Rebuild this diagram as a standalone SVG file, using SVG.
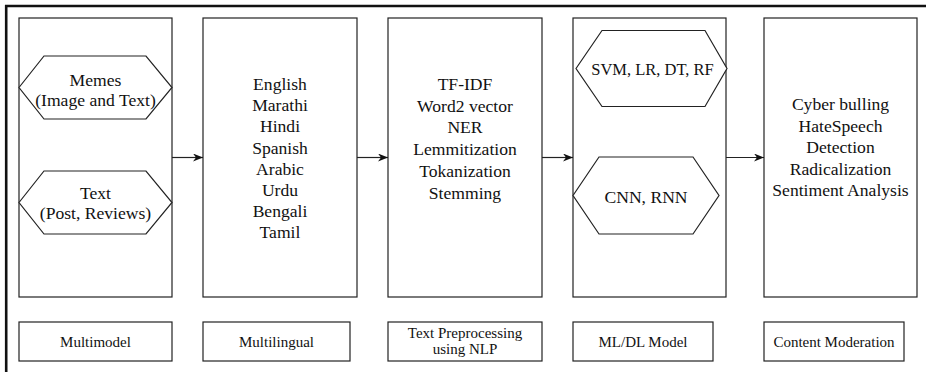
<svg xmlns="http://www.w3.org/2000/svg" width="926" height="372" viewBox="0 0 926 372">
<style>
.box{fill:#fff;stroke:#222;stroke-width:1.2}
.t{font-family:'Liberation Serif','Times New Roman',serif;fill:#111;text-anchor:middle}
.big{font-size:17.6px}
.small{font-size:15px}
.con{stroke:#222;stroke-width:1.2;fill:none}
</style>
<defs>
<marker id="ah" markerWidth="10" markerHeight="8" refX="10" refY="4" orient="auto" markerUnits="userSpaceOnUse">
<path d="M0,0 L10,4 L0,8 L3,4 Z" fill="#111"/>
</marker>
</defs>
<rect x="0" y="0" width="926" height="372" fill="#fff"/>
<path d="M926,6 H6.2 V372" fill="none" stroke="#111" stroke-width="2.6"/>

<g id="multimodel">
<rect class="box" x="19" y="18" width="153" height="279"/>
<polygon class="box" points="19,87.5 44,56 146,56 172,87.5 146,119 44,119"/>
<text class="t big" x="95.5" y="86">Memes</text>
<text class="t big" x="95.5" y="106">(Image and Text)</text>
<polygon class="box" points="19,202.5 44,171 146,171 172,202.5 146,234 44,234"/>
<text class="t big" x="95.5" y="199">Text</text>
<text class="t big" x="95.5" y="219">(Post, Reviews)</text>
</g>
<g id="label-multimodel">
<rect class="box" x="19" y="322" width="153" height="39"/>
<text class="t small" x="95.5" y="347">Multimodel</text>
</g>

<g id="multilingual">
<rect class="box" x="203" y="18" width="154" height="279"/>
<text class="t big" x="280" y="90">English</text>
<text class="t big" x="280" y="111.2">Marathi</text>
<text class="t big" x="280" y="132.4">Hindi</text>
<text class="t big" x="280" y="153.6">Spanish</text>
<text class="t big" x="280" y="174.8">Arabic</text>
<text class="t big" x="280" y="196">Urdu</text>
<text class="t big" x="280" y="217.2">Bengali</text>
<text class="t big" x="280" y="238.4">Tamil</text>
</g>
<g id="label-multilingual">
<rect class="box" x="203" y="322" width="147" height="39"/>
<text class="t small" x="276.5" y="347">Multilingual</text>
</g>

<g id="preprocessing">
<rect class="box" x="388" y="18" width="154" height="279"/>
<text class="t big" x="465" y="90">TF-IDF</text>
<text class="t big" x="465" y="111.7">Word2 vector</text>
<text class="t big" x="465" y="133.4">NER</text>
<text class="t big" x="465" y="155.1">Lemmitization</text>
<text class="t big" x="465" y="176.8">Tokanization</text>
<text class="t big" x="465" y="198.5">Stemming</text>
</g>
<g id="label-preprocessing">
<rect class="box" x="388" y="322" width="154" height="39"/>
<text class="t small" x="465" y="337.5">Text Preprocessing</text>
<text class="t small" x="465" y="353.5">using NLP</text>
</g>

<g id="model">
<rect class="box" x="573" y="18" width="153" height="279"/>
<polygon class="box" points="576,68.5 602,30.5 705,30.5 727,68.5 705,106.5 602,106.5"/>
<text class="t" style="font-size:16.5px" x="652.5" y="75">SVM, LR, DT, RF</text>
<polygon class="box" points="573,195.5 599,157 693,157 719,195.5 693,234 599,234"/>
<text class="t big" x="646" y="202.5">CNN, RNN</text>
</g>
<g id="label-model">
<rect class="box" x="573" y="322" width="140" height="39"/>
<text class="t small" x="643" y="347">ML/DL Model</text>
</g>

<g id="moderation">
<rect class="box" x="764" y="18" width="153" height="279"/>
<text class="t big" x="840.5" y="110">Cyber bulling</text>
<text class="t big" x="840.5" y="131.6">HateSpeech</text>
<text class="t big" x="840.5" y="153.2">Detection</text>
<text class="t big" x="840.5" y="174.8">Radicalization</text>
<text class="t big" x="840.5" y="196.4">Sentiment Analysis</text>
</g>
<g id="label-moderation">
<rect class="box" x="764" y="322" width="140" height="39"/>
<text class="t small" x="834" y="347">Content Moderation</text>
</g>

<g id="connectors">
<line class="con" x1="172" y1="157.5" x2="203" y2="157.5" marker-end="url(#ah)"/>
<line class="con" x1="357" y1="157.5" x2="388" y2="157.5" marker-end="url(#ah)"/>
<line class="con" x1="542" y1="157.5" x2="573" y2="157.5" marker-end="url(#ah)"/>
<line class="con" x1="726" y1="157.5" x2="764" y2="157.5" marker-end="url(#ah)"/>
</g>
</svg>
